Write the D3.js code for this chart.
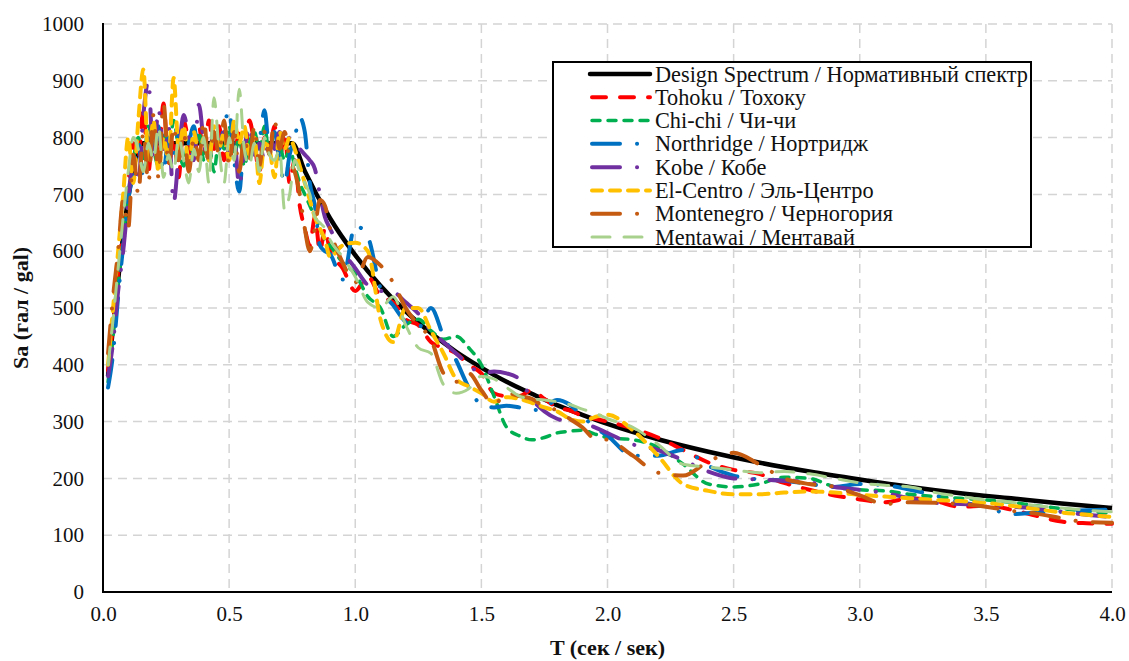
<!DOCTYPE html>
<html>
<head>
<meta charset="utf-8">
<script src="https://cdn.jsdelivr.net/npm/d3@7"></script>
<style>
  html, body { margin: 0; padding: 0; background: #fff; }
  svg { display: block; }
  svg text { font-family: "Liberation Serif", "Times New Roman", serif; }
</style>
</head>
<body>
<svg id="chart" width="1129" height="661"></svg>
<script>
// Periods T (s) shared by all recorded response spectra
const periods = [
  0.02,0.04,0.06,0.08,0.10,0.12,0.14,0.16,0.18,0.20,
  0.22,0.24,0.26,0.28,0.30,0.32,0.34,0.36,0.38,0.40,
  0.42,0.44,0.46,0.48,0.50,0.52,0.54,0.56,0.58,0.60,
  0.62,0.64,0.66,0.68,0.70,0.72,0.74,0.76,0.78,0.80,
  0.82,0.84,0.86,0.88,0.90,
  0.95,1.00,1.05,1.10,1.15,1.20,1.25,1.30,1.35,1.40,
  1.45,1.50,1.55,1.60,1.65,1.70,1.75,1.80,1.85,1.90,
  1.95,2.00,
  2.10,2.20,2.30,2.40,2.50,2.60,2.70,2.80,2.90,3.00,
  3.10,3.20,3.30,3.40,3.50,3.60,3.70,3.80,3.90,4.00
];

// Design spectrum (normative), Sa in gal
const designT  = [0.02,0.16,0.75,0.80,0.90,1.00,1.10,1.20,1.30,1.40,1.50,1.60,1.70,1.80,1.90,2.00,2.20,2.40,2.60,2.80,3.00,3.20,3.40,3.60,3.80,4.00];
const designSa = [380, 790, 790, 741, 658, 593, 539, 494, 456, 423, 395, 370, 349, 329, 312, 296, 269, 247, 228, 212, 198, 185, 174, 165, 156, 148];

// Recorded acceleration response spectra, Sa in gal
const tohoku = [
  390,470,560,640,720,790,760,850,740,820,
  770,860,750,800,730,830,790,760,820,770,
  830,780,820,760,800,770,810,760,830,790,
  740,800,780,820,760,810,720,760,680,640,
  610,660,600,640,600,
  570,530,555,520,510,480,470,440,430,420,
  400,385,350,345,345,355,340,325,320,310,
  305,300,
  288,272,250,228,215,208,192,180,170,163,
  158,165,160,150,152,145,134,124,121,120
];
const chichi = [
  370,450,540,620,700,760,800,760,820,780,
  750,810,770,830,780,750,800,770,810,760,
  790,740,800,780,820,770,800,750,790,810,
  780,820,770,810,790,760,780,750,720,700,
  680,660,640,620,610,
  580,560,520,500,450,470,480,460,445,450,
  430,400,345,290,275,268,272,280,283,285,
  278,272,
  268,255,225,190,185,190,202,200,185,180,
  178,172,168,165,162,158,152,147,142,139
];
const northridge = [
  360,420,520,610,690,740,790,730,800,760,
  820,740,800,770,810,750,790,820,770,800,
  760,810,780,820,848,760,705,790,770,810,
  800,848,780,810,760,720,770,800,835,810,
  720,680,610,600,595,
  550,645,625,535,505,475,465,500,450,408,
  360,330,325,328,325,320,325,338,330,310,
  290,275,
  240,240,250,222,205,198,196,190,185,190,
  188,180,170,158,150,137,140,142,144,145
];
const kobe = [
  380,440,530,600,690,760,720,840,900,760,
  850,780,820,685,770,840,800,760,858,790,
  760,820,780,810,770,800,715,780,820,770,
  790,760,800,780,810,790,800,790,780,770,
  760,745,700,660,640,
  600,570,540,530,528,510,490,460,440,420,
  400,385,388,385,375,340,318,305,300,298,
  290,280,
  260,250,232,212,200,198,196,193,185,180,
  174,165,157,155,153,150,147,141,136,132
];
const elCentro = [
  400,500,600,700,800,720,830,920,760,830,
  740,800,760,905,780,820,750,810,770,800,
  760,820,780,810,760,830,790,820,770,800,
  720,790,780,730,810,780,800,780,750,720,
  690,660,640,620,590,
  610,615,600,480,440,500,500,460,420,375,
  362,350,335,343,340,333,325,318,305,300,
  308,312,
  285,240,190,178,172,172,175,177,175,171,
  168,165,162,160,157,152,146,140,136,132
];
const montenegro = [
  420,520,600,690,640,770,700,810,720,840,
  730,860,750,820,760,810,740,800,760,830,
  750,810,770,830,750,810,740,800,760,820,
  750,810,770,830,780,810,760,740,700,640,
  600,640,690,680,640,
  580,545,590,575,545,500,470,445,385,370,
  385,355,330,350,345,340,326,320,305,290,
  270,268,
  240,210,205,230,245,225,200,190,185,170,
  155,158,157,155,150,143,138,130,123,122
];
const mentawai = [
  400,480,570,660,740,800,780,740,790,760,
  820,730,770,740,800,760,720,780,740,800,
  720,870,780,720,800,760,885,780,750,790,
  740,800,770,760,780,672,700,760,740,720,
  700,660,650,640,620,
  590,555,510,500,520,470,430,420,365,350,
  358,380,375,360,345,340,338,335,330,322,
  315,305,
  290,260,225,220,215,210,212,208,200,192,
  188,185,175,168,162,158,152,148,144,141
];

const legendLabels = [
  "Design Spectrum / Нормативный спектр",
  "Tohoku / Тохоку",
  "Chi-chi / Чи-чи",
  "Northridge / Нортридж",
  "Kobe / Кобе",
  "El-Centro / Эль-Центро",
  "Montenegro / Черногория",
  "Mentawai / Ментавай"
];
const xTicks = [0, 0.5, 1.0, 1.5, 2.0, 2.5, 3.0, 3.5, 4.0];
const yTicks = [0, 100, 200, 300, 400, 500, 600, 700, 800, 900, 1000];
const xTitle = "T (сек / sек)";
const yTitle = "Sa (гал / gal)";

// Line styles for each curve (same order as legend)
const styles = [
  { color: "#000000", width: 4.5, dash: null },
  { color: "#FF0000", width: 4,   dash: "14,14" },
  { color: "#00B050", width: 3.5, dash: "8,8" },
  { color: "#0070C0", width: 4,   dash: "28,17,0.1,17" },
  { color: "#7030A0", width: 4,   dash: "28,17,0.1,17" },
  { color: "#FFC000", width: 4,   dash: "10,8" },
  { color: "#C55A11", width: 4,   dash: "28,17,0.1,17" },
  { color: "#A9D18E", width: 3,   dash: "18,14" }
];

const seriesData = [
  d3.zip(designT, designSa),
  d3.zip(periods, tohoku),
  d3.zip(periods, chichi),
  d3.zip(periods, northridge),
  d3.zip(periods, kobe),
  d3.zip(periods, elCentro),
  d3.zip(periods, montenegro),
  d3.zip(periods, mentawai)
];

const SERIF = "'Liberation Serif', 'Times New Roman', serif";
const svg = d3.select("#chart");
const plot = { left: 103, right: 1112, top: 24, bottom: 592 };

const x = d3.scaleLinear().domain([0, 4]).range([plot.left, plot.right]);
const y = d3.scaleLinear().domain([0, 1000]).range([plot.bottom, plot.top]);

// Dashed grid
const grid = svg.append("g").attr("stroke", "#d4d4d4").attr("stroke-width", 1.5)
  .attr("stroke-dasharray", "9,6");
grid.selectAll("line.h").data(yTicks.filter(d => d > 0)).join("line")
  .attr("class", "h")
  .attr("x1", plot.left).attr("x2", plot.right)
  .attr("y1", d => y(d)).attr("y2", d => y(d));
grid.selectAll("line.v").data(xTicks.filter(d => d > 0)).join("line")
  .attr("class", "v")
  .attr("y1", plot.top).attr("y2", plot.bottom)
  .attr("x1", d => x(d)).attr("x2", d => x(d));

// Axes (labels only, no tick marks)
const xAxis = d3.axisBottom(x).tickValues(xTicks).tickFormat(d3.format(".1f")).tickSize(0).tickPadding(14);
const yAxis = d3.axisLeft(y).tickValues(yTicks).tickFormat(d3.format("d")).tickSize(0).tickPadding(19);

const gx = svg.append("g").attr("transform", `translate(0,${plot.bottom})`).call(xAxis);
const gy = svg.append("g").attr("transform", `translate(${plot.left},0)`).call(yAxis);
[gx, gy].forEach(g => {
  g.attr("font-family", null).attr("font-size", null);
  g.select(".domain").remove();
  g.selectAll("text")
    .style("font-family", SERIF)
    .style("font-size", "21px")
    .attr("fill", "#111");
});

// Curves
const line = d3.line()
  .x(d => x(d[0]))
  .y(d => y(d[1]))
  .curve(d3.curveMonotoneX);

svg.append("g").selectAll("path").data(seriesData).join("path")
  .attr("d", line)
  .attr("fill", "none")
  .attr("stroke", (d, i) => styles[i].color)
  .attr("stroke-width", (d, i) => styles[i].width)
  .attr("stroke-dasharray", (d, i) => styles[i].dash)
  .attr("stroke-linecap", (d, i) => i === 0 ? "butt" : "round")
  .attr("stroke-linejoin", "round");

// Axis lines
svg.append("line").attr("x1", plot.left).attr("x2", plot.left)
  .attr("y1", plot.top - 1).attr("y2", plot.bottom + 1)
  .attr("stroke", "#000").attr("stroke-width", 2);
svg.append("line").attr("x1", plot.left - 1).attr("x2", plot.right)
  .attr("y1", plot.bottom).attr("y2", plot.bottom)
  .attr("stroke", "#000").attr("stroke-width", 2);

// Axis titles
svg.append("text")
  .attr("x", (plot.left + plot.right) / 2).attr("y", 655)
  .attr("text-anchor", "middle")
  .style("font-family", SERIF).style("font-weight", "bold").style("font-size", "22px")
  .attr("fill", "#111")
  .text(xTitle);
svg.append("text")
  .attr("transform", `translate(28,${(plot.top + plot.bottom) / 2}) rotate(-90)`)
  .attr("text-anchor", "middle")
  .style("font-family", SERIF).style("font-weight", "bold").style("font-size", "22px")
  .attr("fill", "#111")
  .text(yTitle);

// Legend
const legend = svg.append("g");
legend.append("rect")
  .attr("x", 553).attr("y", 62).attr("width", 478).attr("height", 185)
  .attr("fill", "#fff").attr("stroke", "#000").attr("stroke-width", 2);
const rowY = d3.scaleLinear().domain([0, 7]).range([74, 237]);
const rows = legend.selectAll("g.row").data(legendLabels).join("g")
  .attr("class", "row")
  .attr("transform", (d, i) => `translate(0,${rowY(i)})`);
rows.append("line")
  .attr("x1", (d, i) => i === 0 ? 590 : 592).attr("x2", 650)
  .attr("y1", 0).attr("y2", 0)
  .attr("stroke", (d, i) => styles[i].color)
  .attr("stroke-width", (d, i) => styles[i].width)
  .attr("stroke-dasharray", (d, i) => styles[i].dash)
  .attr("stroke-linecap", "round");
rows.append("text")
  .attr("x", 655).attr("y", 0).attr("dy", "0.34em")
  .style("font-family", SERIF).style("font-size", "22.3px")
  .attr("fill", "#111")
  .text(d => d);
</script>
</body>
</html>
